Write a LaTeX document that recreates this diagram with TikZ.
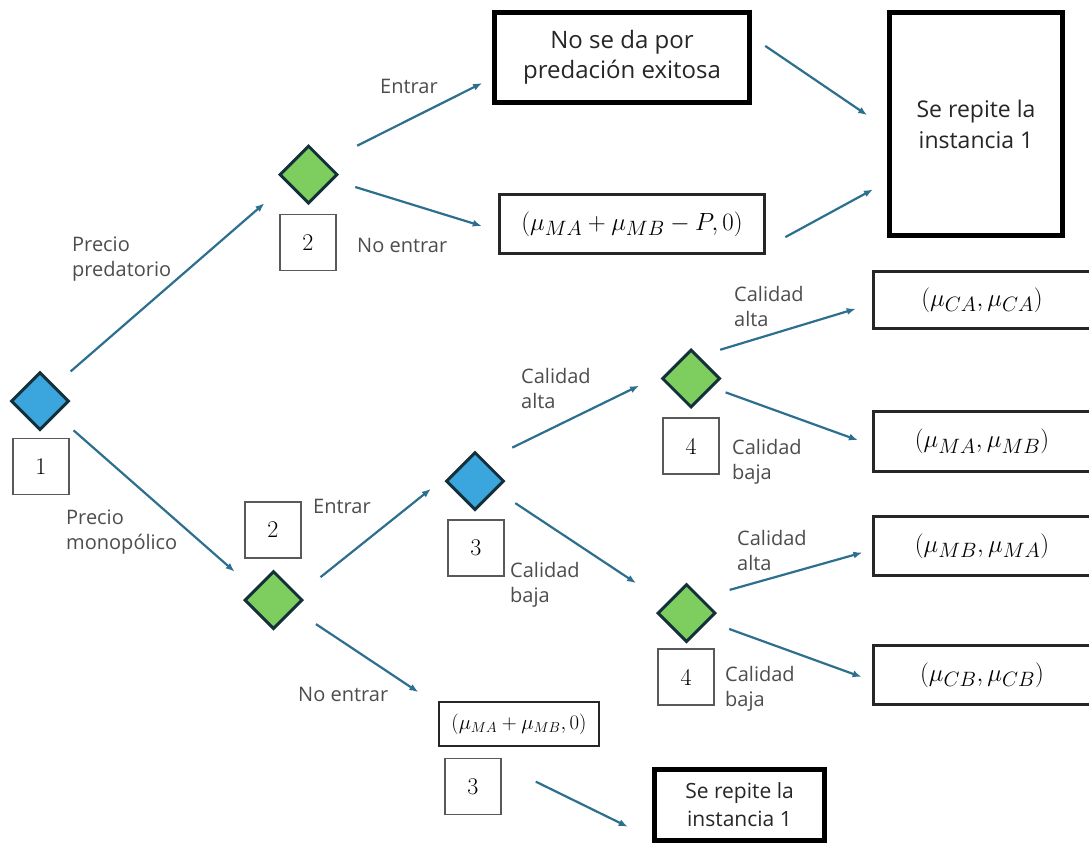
\documentclass[tikz,border=0pt]{standalone}
\usepackage{fontspec}
\newfontfamily\etiqfont{Open Sans}
\usetikzlibrary{shapes.geometric, arrows.meta}
\definecolor{azulj}{HTML}{3AA6DD}
\definecolor{verdej}{HTML}{7DCE5F}
\definecolor{bordej}{HTML}{14303A}
\definecolor{flecha}{HTML}{2D6F8E}
\definecolor{gristxt}{HTML}{4D4D4D}

\begin{document}
\begin{tikzpicture}[x=1pt, y=-1pt,
    juego/.style={diamond, draw=bordej, line width=3pt, fill=#1, minimum width=58pt, minimum height=58pt, inner sep=0pt},
    num/.style={draw=black!65, line width=1.3pt, minimum width=56pt, minimum height=56pt, inner sep=0pt, font=\fontsize{24}{24}\selectfont},
    marco/.style={draw=black, line width=5pt, align=center, inner sep=0pt, text=black!85, font=\etiqfont\fontsize{24}{30}\selectfont},
    pago/.style={draw=black!85, line width=3pt, inner sep=0pt, font=\fontsize{30}{32}\selectfont},
    etiq/.style={anchor=west, align=left, inner sep=0pt, text=gristxt, font=\etiqfont\fontsize{20}{25}\selectfont},
    rama/.style={draw=flecha, line width=2.2pt, -{Latex[length=9pt,width=7pt]}}]
    \useasboundingbox (0,0) rectangle (1089,844);
    \clip (0,0) rectangle (1089,844);
    \fill[white] (0,0) rectangle (1089,844);

    % Nodos de decision
    \node[juego=azulj] (d1) at (40,401) {};
    \node[num] (n1) at (41,466.5) {1};
    \node[juego=verdej] (d2a) at (308.5,174.5) {};
    \node[num] (n2a) at (308,242.5) {2};
    \node[juego=verdej] (d2b) at (273.5,600) {};
    \node[num] (n2b) at (273,530) {2};
    \node[juego=azulj] (d3) at (475,481) {};
    \node[num] (n3) at (476,548) {3};
    \node[juego=verdej] (d4a) at (691,378.5) {};
    \node[num] (n4a) at (691,446) {4};
    \node[juego=verdej] (d4b) at (686.5,613) {};
    \node[num] (n4b) at (686,677) {4};
    \node[num] (n3c) at (473,786.5) {3};

    % Resultados
    \node[marco, minimum width=255pt, minimum height=90pt] (exito) at (622,57.5) {No se da por\\predación exitosa};
    \node[pago, minimum width=265pt, minimum height=59pt] (pagoP) at (632,224) {$(\mu_{MA}+\mu_{MB}-P,0)$};
    \node[marco, minimum width=173pt, minimum height=223pt, font=\etiqfont\fontsize{23}{31}\selectfont] (repiteA) at (976,124) {Se repite la\\instancia 1};
    \node[pago, minimum width=217pt, minimum height=57pt] (pCA) at (982,300) {$(\mu_{CA},\mu_{CA})$};
    \node[pago, minimum width=217pt, minimum height=60pt] (pMAMB) at (982,441.5) {$(\mu_{MA},\mu_{MB})$};
    \node[pago, minimum width=217pt, minimum height=59pt] (pMBMA) at (982,546) {$(\mu_{MB},\mu_{MA})$};
    \node[pago, minimum width=217pt, minimum height=59pt] (pCB) at (982,675) {$(\mu_{CB},\mu_{CB})$};
    \node[pago, line width=1.5pt, minimum width=160pt, minimum height=44pt, font=\fontsize{21.5}{24}\selectfont] (pMAMB0) at (519,724) {$(\mu_{MA}+\mu_{MB},0)$};
    \node[marco, minimum width=170pt, minimum height=71pt, font=\etiqfont\fontsize{21}{28}\selectfont] (repiteB) at (739.5,805) {Se repite la\\instancia 1};

    % Etiquetas de las ramas
    \node[etiq] (lPred) at (72,259) {Precio\\predatorio};
    \node[etiq] (lMono) at (66,532) {Precio\\monopólico};
    \node[etiq] (lEntA) at (380,86) {Entrar};
    \node[etiq] (lNoA) at (357,245) {No entrar};
    \node[etiq] (lEntB) at (313,506) {Entrar};
    \node[etiq] (lNoB) at (298,694) {No entrar};
    \node[etiq] (lAlta3) at (521,388) {Calidad\\alta};
    \node[etiq] (lBaja3) at (510,585) {Calidad\\baja};
    \node[etiq] (lAlta4a) at (734,306) {Calidad\\alta};
    \node[etiq] (lBaja4a) at (732,462) {Calidad\\baja};
    \node[etiq] (lAlta4b) at (737,550) {Calidad\\alta};
    \node[etiq] (lBaja4b) at (725,689) {Calidad\\baja};

    % Ramas de la etapa 1
    \draw[rama, shorten <=21pt, shorten >=30pt] (d1.47) -- (d2a.203);
    \draw[rama, shorten <=23pt, shorten >=26pt] (d1.-41) -- (d2b.150);
    % Etapa 2, precio predatorio
    \draw[rama, shorten <=35pt, shorten >=11pt] (d2a.37) -- (exito.189);
    \draw[rama, shorten <=23pt, shorten >=17pt] (d2a.-13) -- (pagoP.183);
    \draw[rama, shorten <=16pt, shorten >=24pt] (exito.9) -- (repiteA.183);
    \draw[rama, shorten <=22pt, shorten >=16pt] (pagoP.-10) -- (repiteA.213);
    % Etapa 2, precio monopolico
    \draw[rama, shorten <=28pt, shorten >=37pt] (d2b.12) -- (d3.135);
    \draw[rama, shorten <=26pt, shorten >=24pt] (d2b.-25) -- (pMAMB0.167);
    \draw[rama, shorten <=38pt, shorten >=27pt] (n3c.37) -- (repiteB.201);
    % Etapa 3
    \draw[rama, shorten <=30pt, shorten >=31pt] (d3.63) -- (d4a.165);
    \draw[rama, shorten <=23pt, shorten >=36pt] (d3.-24) -- (d4b.154);
    % Etapa 4
    \draw[rama, shorten <=22pt, shorten >=17pt] (d4a.70) -- (pCA.182);
    \draw[rama, shorten <=14pt, shorten >=15pt] (d4a.-23) -- (pMAMB.182);
    \draw[rama, shorten <=29pt, shorten >=10pt] (d4b.45) -- (pMBMA.182);
    \draw[rama, shorten <=22pt, shorten >=11pt] (d4b.-21) -- (pCB.183);
\end{tikzpicture}
\end{document}
